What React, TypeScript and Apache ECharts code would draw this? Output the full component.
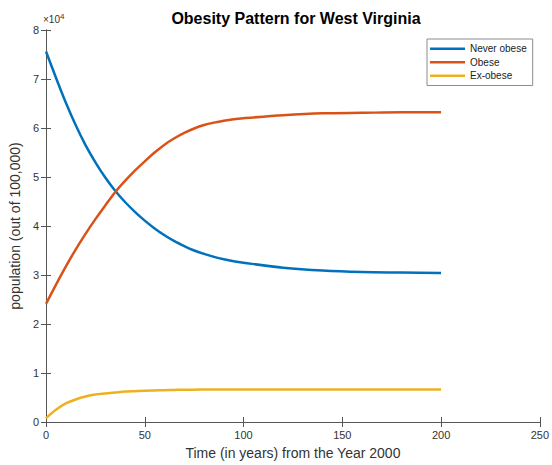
import React, { useEffect, useRef } from "react";
import * as echarts from "echarts";

// Time since 2000 (years)
const years = [0, 5, 10, 15, 20, 25, 30, 35, 40, 45, 50, 55, 60, 65, 70, 75, 80, 85, 90, 95, 100, 120, 140, 160, 180, 200];

// Population counts (out of 100,000)
const neverObese = [75600, 70300, 65200, 60600, 56500, 53000, 49900, 47200, 44900, 42900, 41100, 39500, 38100, 36900, 35900, 35000, 34300, 33700, 33200, 32800, 32500, 31500, 30900, 30600, 30500, 30400];
const obese = [24100, 28000, 31700, 35200, 38400, 41400, 44200, 46900, 49200, 51300, 53200, 55000, 56600, 57900, 59000, 59900, 60600, 61100, 61500, 61800, 62000, 62600, 63000, 63100, 63200, 63200];
const exObese = [800, 2500, 3800, 4600, 5200, 5600, 5800, 6000, 6200, 6300, 6400, 6450, 6500, 6550, 6600, 6600, 6650, 6650, 6650, 6650, 6650, 6650, 6650, 6650, 6650, 6650];

const seriesNames = ["Never obese", "Obese", "Ex-obese"];
const seriesColors = ["#0072BD", "#D95319", "#EDB120"];

const xTicks = [0, 250, 50];
const yTicks = [0, 80000, 10000];

const FONT = "'Liberation Sans', Arial, Helvetica, sans-serif";
const AXIS = "#555555";
const TEXT = "#333333";

export default function App() {
  const ref = useRef<HTMLDivElement>(null);

  useEffect(() => {
    if (!ref.current) return;
    const chart = echarts.init(ref.current, null, { renderer: "svg" });

    const pair = (vals: number[]) => years.map((t, i) => [t, vals[i]]);
    const allSeries = [neverObese, obese, exObese];

    const baseAxisLine = { show: true, lineStyle: { color: AXIS, width: 1 } };
    const tick = { show: true, inside: true, length: 5, lineStyle: { color: AXIS } };

    chart.setOption({
      animation: false,
      backgroundColor: "#ffffff",
      textStyle: { fontFamily: FONT },
      title: {
        text: "Obesity Pattern for West Virginia",
        left: 291,
        textAlign: "center",
        top: 5,
        textStyle: { fontSize: 16, fontWeight: "bold", color: "#000", fontFamily: FONT },
      },
      legend: {
        data: seriesNames,
        orient: "vertical",
        left: 427,
        top: 39,
        icon: "rect",
        itemWidth: 35,
        itemHeight: 2.5,
        itemGap: 2,
        padding: [4, 6, 4, 3],
        borderColor: "#8c8c8c",
        borderWidth: 1,
        backgroundColor: "#fff",
        textStyle: { fontSize: 10, color: "#222", fontFamily: FONT, lineHeight: 11.5 },
      },
      grid: { left: 42, right: 11, top: 30, bottom: 39, containLabel: false },
      graphic: [
        {
          type: "text",
          left: 43,
          top: 12,
          style: {
            text: "×10{s|4}",
            fontSize: 10,
            fill: TEXT,
            fontFamily: FONT,
            rich: { s: { fontSize: 8, verticalAlign: "top", padding: [0, 0, 6, 0] } },
          } as any,
        },
      ],
      xAxis: [
        {
          type: "value",
          min: xTicks[0],
          max: xTicks[1],
          interval: xTicks[2],
          position: "bottom",
          axisLine: baseAxisLine,
          axisTick: tick,
          splitLine: { show: false },
          axisLabel: { color: TEXT, fontSize: 11, margin: 7, fontFamily: FONT },
          name: "Time (in years) from the Year 2000",
          nameLocation: "middle",
          nameGap: 24,
          nameTextStyle: { fontSize: 14, color: TEXT, fontFamily: FONT },
        },
        {
          type: "value",
          min: xTicks[0],
          max: xTicks[1],
          interval: xTicks[2],
          position: "top",
          axisLine: baseAxisLine,
          axisTick: tick,
          splitLine: { show: false },
          axisLabel: { show: false },
        },
      ],
      yAxis: [
        {
          type: "value",
          min: yTicks[0],
          max: yTicks[1],
          interval: yTicks[2],
          position: "left",
          axisLine: baseAxisLine,
          axisTick: tick,
          splitLine: { show: false },
          axisLabel: {
            color: TEXT,
            fontSize: 11,
            margin: 7,
            fontFamily: FONT,
            formatter: (v: number) => String(v / 10000),
          },
          name: "population (out of 100,000)",
          nameLocation: "middle",
          nameGap: 21,
          nameTextStyle: { fontSize: 14, color: TEXT, fontFamily: FONT },
        },
        {
          type: "value",
          min: yTicks[0],
          max: yTicks[1],
          interval: yTicks[2],
          position: "right",
          axisLine: baseAxisLine,
          axisTick: tick,
          splitLine: { show: false },
          axisLabel: { show: false },
        },
      ],
      series: allSeries.map((vals, i) => ({
        name: seriesNames[i],
        type: "line",
        data: pair(vals),
        showSymbol: false,
        symbol: "none",
        smooth: 0.3,
        lineStyle: { color: seriesColors[i], width: 2.5 },
        itemStyle: { color: seriesColors[i] },
        xAxisIndex: 0,
        yAxisIndex: 0,
      })),
    });

    return () => chart.dispose();
  }, []);

  return <div ref={ref} style={{ position: "fixed", left: 0, top: 0, width: 552, height: 465 }} />;
}
